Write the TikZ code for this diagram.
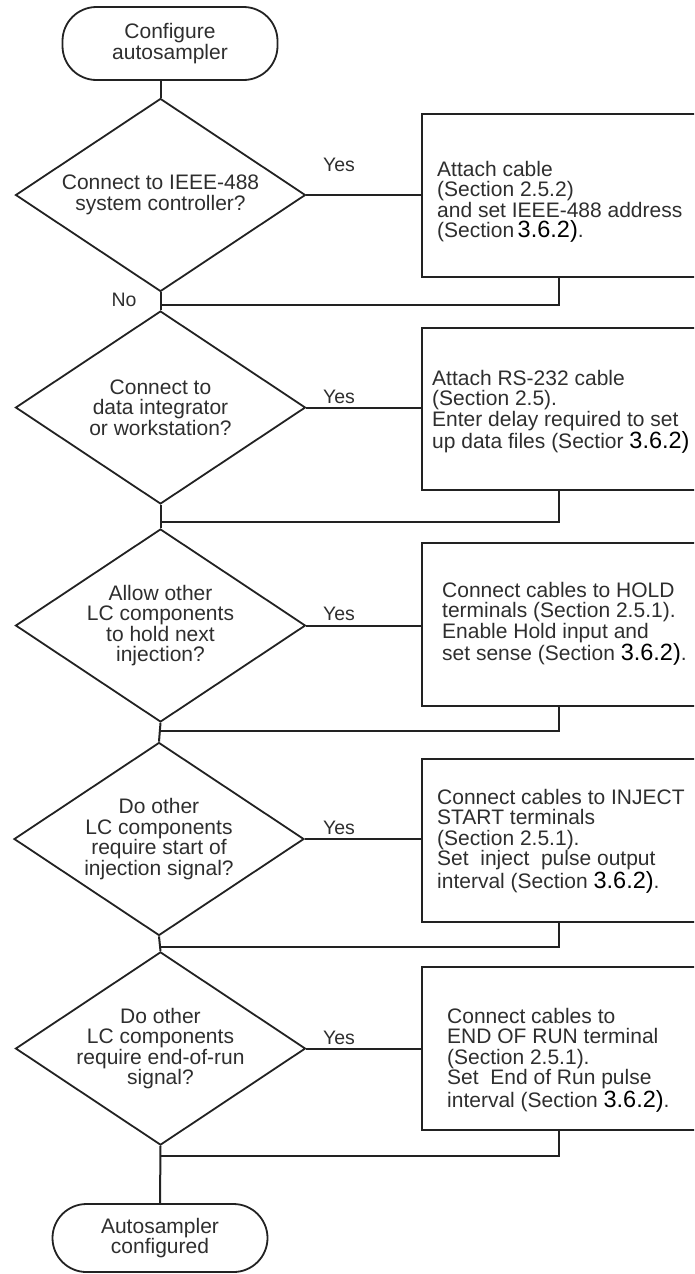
\documentclass[tikz,border=0pt]{standalone}
\usepackage{fontspec}
\setmainfont{Liberation Sans}
\usetikzlibrary{shapes.geometric}
\definecolor{ink}{HTML}{222222}
\definecolor{txt}{HTML}{2E2E2E}
\newcommand{\bignum}[1]{{\fontsize{23.5}{20.5}\selectfont\color{black}#1}}
\newcommand{\bodyfont}{\fontsize{21}{20.5}\selectfont}
\begin{document}
\begin{tikzpicture}[x=1pt,y=-1pt,
  line/.style={draw=ink,line width=2pt},
  dec/.style={diamond, draw=ink, line width=1.8pt, minimum width=290pt, minimum height=193pt,
    inner sep=0pt, shape aspect=1.5, align=center, font=\bodyfont, text=txt},
  term/.style={rectangle, rounded corners=34pt, draw=ink, line width=1.8pt, minimum width=215pt,
    align=center, font=\bodyfont, text=txt},
  act/.style={rectangle, draw=ink, line width=2.5pt, minimum width=274pt, minimum height=163pt, inner sep=0pt},
  btxt/.style={align=left, anchor=west, inner sep=0pt, font=\bodyfont, text=txt},
  lbl/.style={font=\fontsize{19.5}{20}\selectfont, text=txt, inner sep=0pt}]
\useasboundingbox (0,0) rectangle (694,1274);
\clip (0,0) rectangle (694,1274);

% terminals
\node[term, minimum height=73pt] (start) at (170,43.5) {Configure\\autosampler};
\node[term, minimum height=68pt] (end) at (160,1238) {Autosampler\\configured};

% decisions
\node[dec] (d1) at (160.5,195) {Connect to IEEE-488\\system controller?};
\node[dec] (d2) at (160.5,407.5) {Connect to\\data integrator\\or workstation?};
\node[dec] (d3) at (160.5,625.5) {Allow other\\LC components\\to hold next\\injection?};
\node[dec] (d4) at (159,839) {Do other\\LC components\\require start of\\injection signal?};
\node[dec] (d5) at (160.5,1048.5) {Do other\\LC components\\require end-of-run\\signal?};

% action boxes
\node[act] (b1) at (559,195.5) {};
\node[act, minimum height=162pt] (b2) at (559,409) {};
\node[act] (b3) at (559,624.5) {};
\node[act] (b4) at (559,840.5) {};
\node[act] (b5) at (559,1048.5) {};

\node[btxt] (t1) at (437,202) {Attach cable\\(Section 2.5.2)\\and set IEEE-488 address\\(Section\,\bignum{3.6.2)}.};
\node[btxt] (t2) at (432,412) {Attach RS-232 cable\\(Section 2.5).\\Enter delay required to set\\up data files (Sectior \bignum{3.6.2)}};
\node[btxt] (t3) at (442,624) {Connect cables to HOLD\\terminals (Section 2.5.1).\\Enable Hold input and\\set sense (Section \bignum{3.6.2)}.};
\node[btxt] (t4) at (437,841) {Connect cables to INJECT\\START terminals\\(Section 2.5.1).\\Set\ \ inject\ \ pulse output\\interval (Section \bignum{3.6.2)}.};
\node[btxt] (t5) at (447,1060) {Connect cables to\\END OF RUN terminal\\(Section 2.5.1).\\Set\ \ End of Run pulse\\interval (Section \bignum{3.6.2)}.};

% labels
\node[lbl] (y1) at (339,165) {Yes};
\node[lbl] (y2) at (339,397) {Yes};
\node[lbl] (y3) at (339,614) {Yes};
\node[lbl] (y4) at (339,828) {Yes};
\node[lbl] (y5) at (339,1038) {Yes};
\node[lbl] (no) at (124,300) {No};

% junctions
\coordinate (j1) at (160.5,305);
\coordinate (j2) at (160.5,522);
\coordinate (j3) at (160.5,731);
\coordinate (j4) at (160.5,947);
\coordinate (j5) at (160.5,1156);

% connectors
\draw[line] (start.south -| d1.north) -- (d1.north);
\draw[line] (d1.south) -- (d2.north);
\draw[line] (d2.south) -- (d3.north);
\draw[line] (d3.south) -- (d4.north);
\draw[line] (d4.south) -- (d5.north);
\draw[line] (d5.south) -- (end.north);

\draw[line] (d1.east) -- (d1.east -| b1.west);
\draw[line] (d2.east) -- (d2.east -| b2.west);
\draw[line] (d3.east) -- (d3.east -| b3.west);
\draw[line] (d4.east) -- (d4.east -| b4.west);
\draw[line] (d5.east) -- (d5.east -| b5.west);

\draw[line] (b1.south) |- (j1);
\draw[line] (b2.south) |- (j2);
\draw[line] (b3.south) |- (j3);
\draw[line] (b4.south) |- (j4);
\draw[line] (b5.south) |- (j5);
\end{tikzpicture}
\end{document}
